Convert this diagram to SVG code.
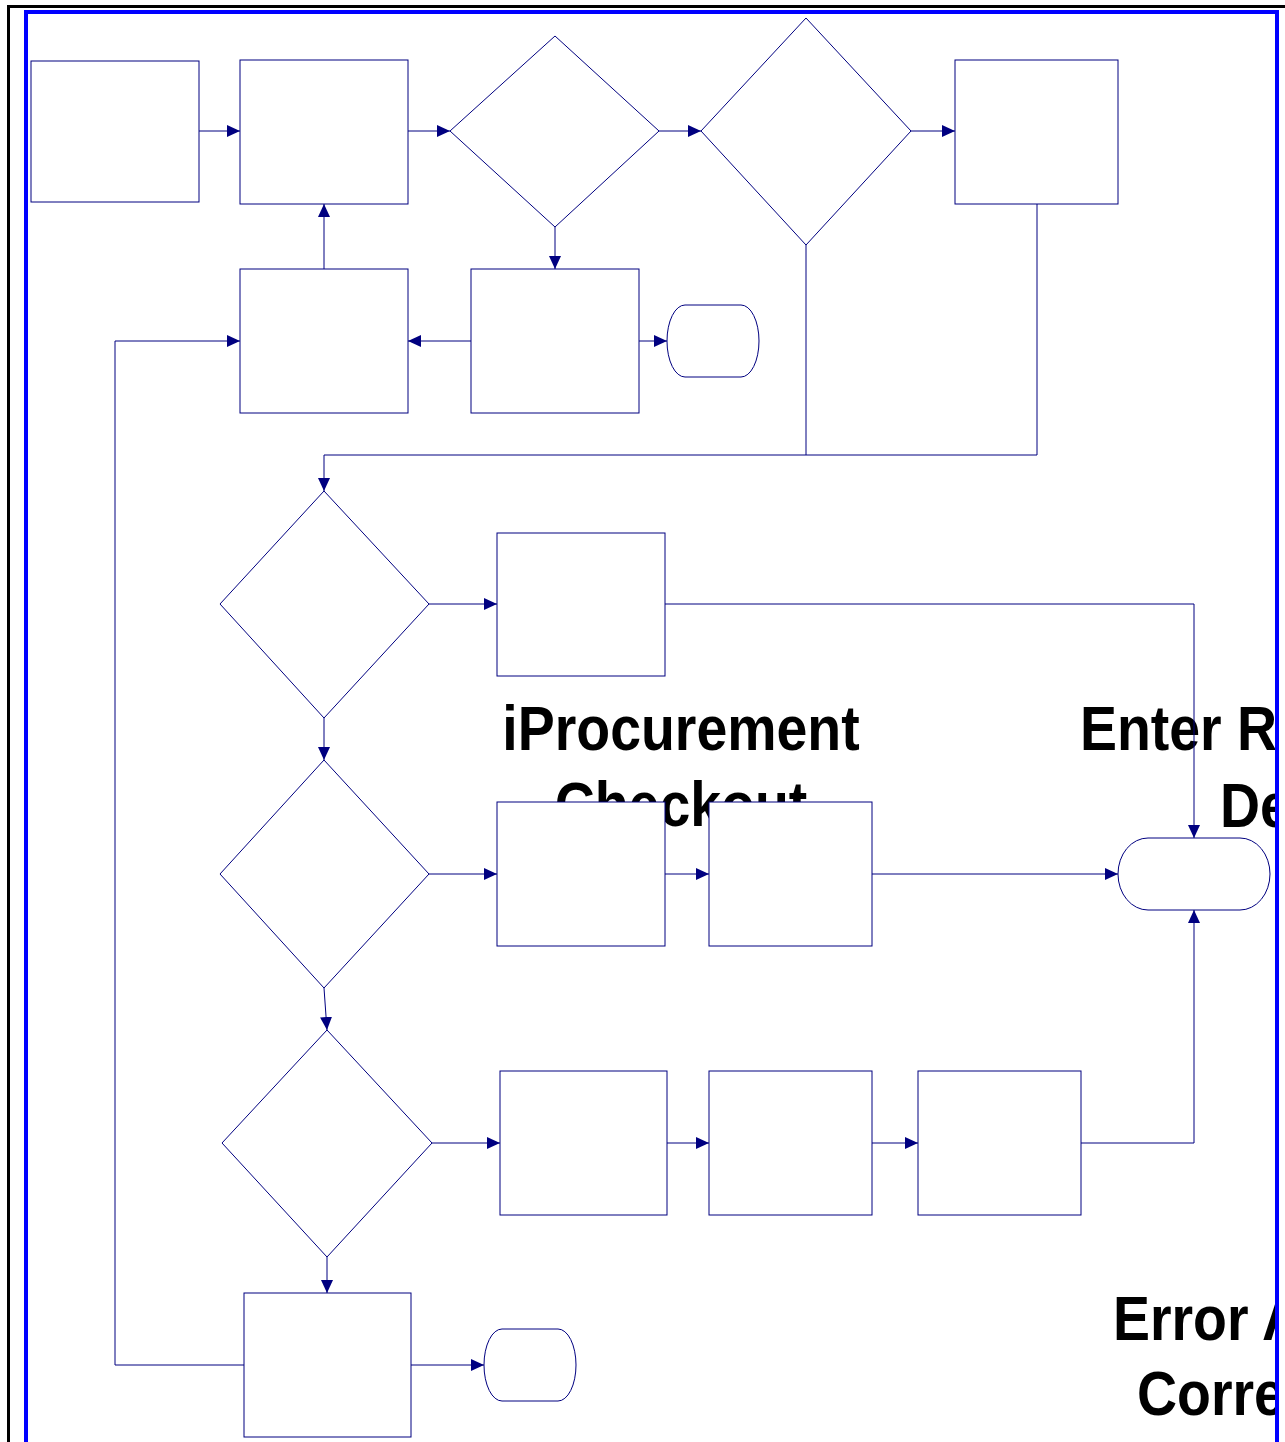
<svg xmlns="http://www.w3.org/2000/svg" width="1285" height="1442" viewBox="0 0 1285 1442">
<defs>
<marker id="arr" viewBox="0 0 13 12" refX="13" refY="6" markerWidth="13" markerHeight="12" markerUnits="userSpaceOnUse" orient="auto">
<path d="M0,0 L13,6 L0,12 z" fill="#000080"/>
</marker>
<clipPath id="page"><rect x="0" y="0" width="1277" height="1442"/></clipPath>
</defs>
<style>
.n{fill:#fff;stroke:#000080;stroke-width:1}
.c{fill:none;stroke:#000080;stroke-width:1;marker-end:url(#arr)}
.cp{fill:none;stroke:#000080;stroke-width:1}
.t{font-family:"Liberation Sans",Arial,sans-serif;font-weight:bold;font-size:63px;fill:#000}
</style>
<rect width="1285" height="1442" fill="#fff"/>
<g id="labels" clip-path="url(#page)">
<text class="t" transform="translate(681,750) scale(0.88,1)" text-anchor="middle">iProcurement</text>
<text class="t" transform="translate(681,826) scale(0.88,1)" text-anchor="middle">Checkout</text>
<text class="t" transform="translate(1080,750) scale(0.88,1)">Enter Re</text>
<text class="t" transform="translate(1220,827) scale(0.88,1)">De</text>
<text class="t" transform="translate(1113,1340) scale(0.88,1)">Error A</text>
<text class="t" transform="translate(1137,1415) scale(0.88,1)">Corre</text>
</g>
<g id="frame">
<path d="M8.5,1442 V6.5 H1285" fill="none" stroke="#000" stroke-width="3"/>
<path d="M26,1442 V12 H1277 V1442" fill="none" stroke="#0000ff" stroke-width="4"/>
</g>
<g id="connectors">
<path class="c" d="M199,131 H240"/>
<path class="c" d="M408,131 H450"/>
<path class="c" d="M659,131 H701"/>
<path class="c" d="M911,131 H955"/>
<path class="c" d="M555,227 V269"/>
<path class="c" d="M471,341 H408"/>
<path class="c" d="M639,341 H667"/>
<path class="c" d="M324,269 V204"/>
<path class="cp" d="M806,245 V455"/>
<path class="c" d="M1037,204 V455 H324 V491"/>
<path class="c" d="M429,604 H497"/>
<path class="c" d="M665,604 H1194 V838"/>
<path class="c" d="M324,718 V760"/>
<path class="c" d="M429,874 H497"/>
<path class="c" d="M665,874 H709"/>
<path class="c" d="M872,874 H1118"/>
<path class="c" d="M324,988 L327,1030"/>
<path class="c" d="M432,1143 H500"/>
<path class="c" d="M667,1143 H709"/>
<path class="c" d="M872,1143 H918"/>
<path class="c" d="M1081,1143 H1194 V910"/>
<path class="c" d="M327,1257 V1293"/>
<path class="c" d="M411,1365 H484"/>
<path class="c" d="M244,1365 H115 V341 H240"/>
</g>
<g id="nA"><rect class="n" x="31" y="61" width="168" height="141"/></g>
<g id="nB"><rect class="n" x="240" y="60" width="168" height="144"/></g>
<g id="nC"><polygon class="n" points="555,36 659,131 555,227 450,131"/></g>
<g id="nD"><polygon class="n" points="806,18 911,131 806,245 701,131"/></g>
<g id="nE"><rect class="n" x="955" y="60" width="163" height="144"/></g>
<g id="nF"><rect class="n" x="240" y="269" width="168" height="144"/></g>
<g id="nG"><rect class="n" x="471" y="269" width="168" height="144"/></g>
<g id="nH"><rect class="n" x="667" y="305" width="92" height="72" rx="18" ry="36"/></g>
<g id="nI"><polygon class="n" points="324,491 429,604 324,718 220,604"/></g>
<g id="nJ"><rect class="n" x="497" y="533" width="168" height="143"/></g>
<g id="nK"><polygon class="n" points="324,760 429,874 324,988 220,874"/></g>
<g id="nL"><rect class="n" x="497" y="802" width="168" height="144"/></g>
<g id="nM"><rect class="n" x="709" y="802" width="163" height="144"/></g>
<g id="nN"><rect class="n" x="1118" y="838" width="152" height="72" rx="30" ry="36"/></g>
<g id="nO"><polygon class="n" points="327,1030 432,1143 327,1257 222,1143"/></g>
<g id="nP"><rect class="n" x="500" y="1071" width="167" height="144"/></g>
<g id="nQ"><rect class="n" x="709" y="1071" width="163" height="144"/></g>
<g id="nR"><rect class="n" x="918" y="1071" width="163" height="144"/></g>
<g id="nS"><rect class="n" x="244" y="1293" width="167" height="144"/></g>
<g id="nT"><rect class="n" x="484" y="1329" width="92" height="72" rx="18" ry="36"/></g>
</svg>
